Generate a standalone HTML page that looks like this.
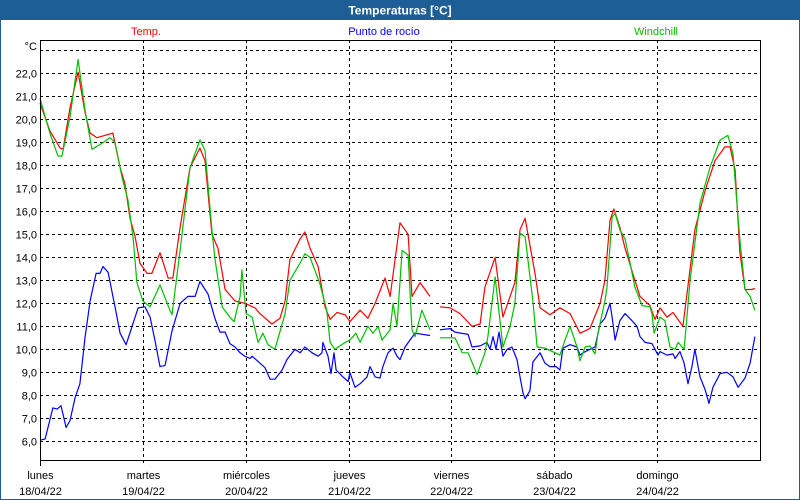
<!DOCTYPE html>
<html><head><meta charset="utf-8"><style>
html,body{margin:0;padding:0;background:#fff}
#wrap{position:relative;width:800px;height:500px;overflow:hidden;font-family:"Liberation Sans",sans-serif}
</style></head><body>
<div id="wrap">
<svg id="chart" width="800" height="500" xmlns="http://www.w3.org/2000/svg" font-family="Liberation Sans, sans-serif">
<rect x="0.5" y="0.5" width="799" height="499" fill="#fff" stroke="#1c5e95"/>
<rect x="0" y="0" width="800" height="20" fill="#1c5e95"/>
<text x="400" y="14.5" text-anchor="middle" fill="#fff" font-size="12" font-weight="bold">Temperaturas [°C]</text>
<text x="146" y="35" text-anchor="middle" fill="#ff0000" font-size="11">Temp.</text>
<text x="384" y="35" text-anchor="middle" fill="#0000ff" font-size="11">Punto de rocío</text>
<text x="656" y="35" text-anchor="middle" fill="#00c000" font-size="11">Windchill</text>
<text x="37" y="50" text-anchor="end" fill="#000" font-size="11">°C</text>
<g id="grid"></g>
<g id="series"></g>
<rect x="40.5" y="40.5" width="720" height="420" fill="none" stroke="#000"/>
<g id="labels"></g>
</svg>
</div>
<script>
const yTicks=[6,7,8,9,10,11,12,13,14,15,16,17,18,19,20,21,22,23];
const yTickLabels=["6,0","7,0","8,0","9,0","10,0","11,0","12,0","13,0","14,0","15,0","16,0","17,0","18,0","19,0","20,0","21,0","22,0",""];
const dayNames=["lunes","martes","miércoles","jueves","viernes","sábado","domingo"];
const dayDates=["18/04/22","19/04/22","20/04/22","21/04/22","22/04/22","23/04/22","24/04/22"];

const tempHours=[0,2.3,4.7,5.4,7,8.9,10.5,11.7,13.3,17,18.7,19.8,21,22.2,23.3,25,26.1,28,29.9,31,32.7,35,37.3,38.5,40.1,41.5,43.2,45.5,47.8,50.2,51.3,54.1,56,57.2,58.3,60.7,61.8,63,64.9,66.5,67.7,69.3,71.2,72.3,74.7,76.5,78.2,80.5,81.7,84,85.9,86.8,88.7,91,null,93.3,95.7,98,100.8,102.7,103.8,106.2,108,110.8,112,113.2,115.5,116.7,119,121.3,123.7,126,128.3,130.7,131.8,133,133.9,135.3,136.5,138.8,140,142.3,143.5,144.7,146.3,147.7,150,151.7,152.8,155.2,157.5,159.8,161,162.2,163.3,164.5,166.1,166.8];
const tempValues=[20.7,19.5,18.75,18.7,20.5,22.05,20.3,19.4,19.2,19.4,17.9,17.2,15.7,14.9,13.75,13.3,13.3,14.2,13.1,13.1,15.3,17.9,18.75,18.2,15.0,14.4,12.6,12.1,12.0,11.8,11.55,11.1,11.35,12.1,13.9,14.8,15.1,14.4,13.6,11.85,11.3,11.6,11.5,11.2,11.7,11.35,12.0,13.1,12.3,15.5,15.0,12.3,12.9,12.3,null,11.85,11.8,11.55,11.0,11.1,12.7,14.0,11.4,12.9,15.2,15.7,13.3,11.8,11.5,11.8,11.55,10.7,10.9,12.0,13.0,15.6,16.1,15.3,14.4,13.0,12.3,11.9,11.3,11.8,11.4,11.6,11.0,13.5,15.2,16.9,18.2,18.8,18.8,17.8,14.2,12.6,12.6,12.65];

const chillHours=[0,2.3,4.2,5.1,7,8.9,10.5,12.1,14,16.3,17.5,19.1,20.5,21.7,22.6,24,25.7,28,30.3,30.8,32.7,35,37.3,38.5,40.1,40.8,42.5,44.3,45.3,46.7,47.1,48.1,49.5,50.9,52,53.2,54.8,57.2,58.3,60.7,61.8,63,65.3,66.9,67.7,68.8,71.2,72.3,73.7,74.7,76.5,77.7,78.9,79.8,81.7,82.4,83.3,84.5,85.9,86.8,87.5,89.1,91,null,93.3,96.8,98.5,99.9,102,103.8,104.5,106.2,108,109.7,110.8,112,113.2,115,116,117.8,120.2,121.3,122.5,123.7,125.3,126,127.2,128.3,129.5,130.2,131.8,132.3,133.5,134.2,135.3,136.5,137.7,138.8,140.5,142.3,142.8,143.3,144.7,145.8,147,148.2,148.9,150.3,151.7,154,156.3,158.7,160.5,161.7,163.3,164.5,165.7,166.8];
const chillValues=[20.9,19.4,18.4,18.4,20.1,22.6,20.4,18.7,18.9,19.2,19.0,17.5,16.5,14.9,12.9,12.1,11.85,12.8,11.7,11.5,14.3,17.9,19.1,18.65,15.2,13.95,11.85,11.4,11.2,12.3,13.45,11.55,11.4,10.3,10.7,10.2,10.0,11.55,13.0,13.75,14.15,14.0,12.85,11.7,10.3,10.0,10.3,10.4,10.7,10.3,11.0,10.7,11.0,10.4,10.85,12.0,11.0,14.3,14.1,10.85,10.55,11.7,10.85,null,10.5,10.5,9.85,9.85,8.9,9.85,10.55,13.15,10.1,11.0,12.0,15.05,14.9,12.1,10.1,10.05,9.85,9.75,10.4,11.0,10.1,9.5,10.1,10.15,9.8,10.7,12.1,12.7,15.75,15.9,15.2,14.8,13.75,12.7,11.9,11.85,11.55,10.7,11.4,11.25,10.1,10.0,10.3,10.0,13.0,16.35,17.9,19.1,19.3,18.5,14.75,12.6,12.3,11.7];

const dewHours=[0,1.2,3,4,4.9,6.1,7,8.2,9.3,10.5,11.7,13.1,14,14.7,15.9,17.5,18.7,20.1,21.5,22.9,24.5,25.7,26.8,28,29.2,30.8,32.7,34.5,36.2,37.3,39.2,40.8,42,43.2,44.3,45.5,46.7,47.8,49,49.5,51.3,52.5,53.7,54.8,56.5,57.6,59.5,60.7,61.8,63.5,64.9,65.8,66,67.2,67.9,68.6,69.1,70.7,71.9,72.3,73.5,74.7,76.3,77,78.2,79.3,80,81.2,82.4,83.3,84,85.2,86.3,87.5,91,null,93.3,95.7,96.8,99.9,100.8,102.7,104.3,105,105.7,106.4,107.1,108,109,110.1,111.3,112,112.7,113.2,114.3,115,116.7,117.8,119,120.4,121.3,122,123.7,125.3,126,126.7,128.3,129.5,130.7,131.8,133,133.5,134.2,135.3,136.5,138.1,139.3,140,141.2,142.8,143.5,144.2,144.7,146.3,147.7,148.2,149.3,150.3,151.2,152.1,152.8,154,155.2,156.1,157,158.7,160.3,161.7,162.9,164.5,165.7,166.8];
const dewValues=[6.05,6.1,7.45,7.4,7.55,6.6,6.9,7.9,8.5,10.5,12.1,13.3,13.3,13.6,13.35,11.85,10.7,10.2,11.0,11.8,11.85,11.4,10.4,9.25,9.3,10.8,12.0,12.3,12.3,12.95,12.4,11.35,10.75,10.75,10.25,10.1,9.85,9.7,9.6,9.7,9.4,9.2,8.7,8.7,9.1,9.55,10.0,9.85,10.1,9.85,9.7,9.85,10.3,9.7,8.95,9.85,9.1,8.8,8.6,9.0,8.35,8.5,8.8,9.25,8.8,8.75,9.25,9.85,10.05,9.7,9.55,10.1,10.4,10.7,10.6,null,10.85,10.9,10.75,10.65,10.1,10.15,10.3,10.0,10.55,10.0,10.75,9.7,10.0,10.1,9.55,8.8,8.1,7.85,8.2,9.45,9.85,9.4,9.25,9.25,9.1,10.05,10.2,10.1,9.75,9.85,10.0,10.1,11.1,11.35,12.0,11.4,10.4,11.25,11.55,11.25,11.0,10.55,10.3,10.25,10.0,9.75,9.9,9.75,9.8,9.6,9.9,9.4,8.5,9.25,10.0,8.8,8.25,7.65,8.35,8.95,9.0,8.8,8.35,8.75,9.4,10.55];

const NS='http://www.w3.org/2000/svg';
const X0=40,X1=760,Y6=441.3,PX_PER_DEG=23,TOTAL_H=168;
function xs(h){return X0+h*(X1-X0)/TOTAL_H;}
function ys(v){return Y6-(v-6)*PX_PER_DEG;}
function mk(tag,attrs){const e=document.createElementNS(NS,tag);for(const k in attrs)e.setAttribute(k,attrs[k]);return e;}

const grid=document.getElementById('grid');
const labels=document.getElementById('labels');
yTicks.forEach((v,i)=>{
  const y=Math.round(ys(v))+0.5;
  const l=mk('line',{x1:X0,x2:X1,y1:y,y2:y,stroke:'#000','stroke-dasharray':'3,3'});
  
  
  grid.appendChild(l);
  if(yTickLabels[i]){
    const t=mk('text',{x:37,y:y+4,'text-anchor':'end','font-size':11,fill:'#000'});
    t.textContent=yTickLabels[i];
    
    
    labels.appendChild(t);
  }
});
dayNames.forEach((d,i)=>{
  const x=Math.round(xs(i*24))+0.5;
  if(i>0){
    const l=mk('line',{x1:x,x2:x,y1:40,y2:466,stroke:'#000','stroke-dasharray':'3,3'});
    
    
    grid.appendChild(l);
  } else {
    const l=mk('line',{x1:x,x2:x,y1:460,y2:466,stroke:'#000'});
    
    
    grid.appendChild(l);
  }
  const t1=mk('text',{x:x,y:479,'text-anchor':'middle','font-size':11,fill:'#000'});
  t1.textContent=d;
  
  
  labels.appendChild(t1);
  const t2=mk('text',{x:x,y:495,'text-anchor':'middle','font-size':11,fill:'#000'});
  t2.textContent=dayDates[i];
  
  
  labels.appendChild(t2);
});

const series=document.getElementById('series');
function drawLine(hours,vals,color,name){
  let d='',pen=false;
  for(let i=0;i<hours.length;i++){
    if(hours[i]===null||vals[i]===null){pen=false;continue;}
    d+=(pen?'L':'M')+xs(hours[i]).toFixed(1)+' '+ys(vals[i]).toFixed(1)+' ';
    pen=true;
  }
  const p=mk('path',{d:d,fill:'none',stroke:color,'stroke-width':1.2,'stroke-linejoin':'round'});
  
  
  series.appendChild(p);
}
drawLine(dewHours,dewValues,'#0000ff','dewpoint-line');
drawLine(tempHours,tempValues,'#ff0000','temp-line');
drawLine(chillHours,chillValues,'#00c000','windchill-line');
</script>
</body></html>
